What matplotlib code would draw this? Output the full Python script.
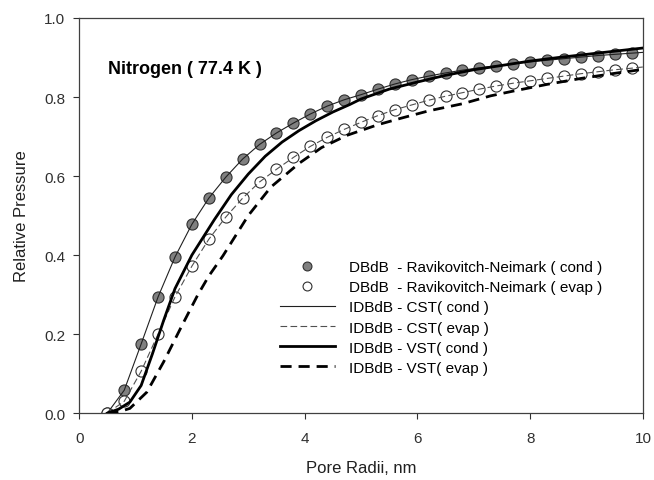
import matplotlib
matplotlib.use("Agg")
import matplotlib.pyplot as plt

plt.rcParams['font.family'] = ['Liberation Sans', 'DejaVu Sans']

# Ravikovitch-Neimark (DBdB) points
rn_x = [0.5, 0.8, 1.1, 1.4, 1.7, 2.0, 2.3, 2.6, 2.9, 3.2, 3.5, 3.8, 4.1, 4.4, 4.7, 5.0,
        5.3, 5.6, 5.9, 6.2, 6.5, 6.8, 7.1, 7.4, 7.7, 8.0, 8.3, 8.6, 8.9, 9.2, 9.5, 9.8]
rn_cond = [0.0, 0.058, 0.175, 0.294, 0.395, 0.478, 0.544, 0.597, 0.643, 0.680, 0.709, 0.734,
           0.757, 0.777, 0.793, 0.806, 0.820, 0.833, 0.844, 0.853, 0.861, 0.868, 0.874, 0.879,
           0.884, 0.889, 0.893, 0.897, 0.901, 0.905, 0.908, 0.911]
rn_evap = [0.0, 0.030, 0.106, 0.200, 0.294, 0.372, 0.440, 0.496, 0.544, 0.585, 0.617, 0.647,
           0.675, 0.698, 0.718, 0.736, 0.753, 0.768, 0.780, 0.792, 0.802, 0.811, 0.820, 0.828,
           0.835, 0.841, 0.847, 0.853, 0.859, 0.864, 0.869, 0.873]

# IDBdB - CST curves
cst_x = rn_x + [10.0]
cst_cond = rn_cond + [0.913]
cst_evap = rn_evap + [0.876]

# IDBdB - VST curves
vst_cond_x = [0.5, 0.7, 0.9, 1.1, 1.3, 1.5, 1.7, 2.0, 2.4, 2.7, 3.0, 3.3, 3.6, 3.9, 4.2,
              4.5, 4.8, 5.0, 5.5, 6.0, 6.5, 7.0, 7.5, 8.0, 8.5, 9.0, 9.5, 10.0]
vst_cond = [0.0, 0.010, 0.028, 0.070, 0.150, 0.235, 0.315, 0.400, 0.490, 0.553, 0.605, 0.650,
            0.686, 0.715, 0.740, 0.762, 0.781, 0.795, 0.820, 0.838, 0.855, 0.869, 0.880, 0.891,
            0.900, 0.908, 0.916, 0.924]
vst_evap_x = [0.5, 0.7, 0.9, 1.2, 1.5, 1.8, 2.1, 2.3, 2.55, 3.0, 3.4, 3.9, 4.3, 4.75, 5.3,
              5.7, 6.2, 6.8, 7.3, 7.7, 8.3, 8.9, 9.5, 10.0]
vst_evap = [0.0, 0.003, 0.012, 0.053, 0.130, 0.215, 0.298, 0.347, 0.398, 0.500, 0.572, 0.632,
            0.672, 0.703, 0.730, 0.746, 0.765, 0.783, 0.803, 0.815, 0.832, 0.847, 0.860, 0.870]

fig = plt.figure(figsize=(6.54, 4.81), dpi=100)
ax = fig.add_axes([0.121, 0.139, 0.862, 0.8215])

ax.plot(rn_x, rn_cond, 'o', ms=8, mfc='#808080', mec='#303030', mew=0.8, zorder=2,
        label='DBdB  - Ravikovitch-Neimark ( cond )')
ax.plot(rn_x, rn_evap, 'o', ms=8, mfc='white', mec='#303030', mew=0.8, zorder=2,
        label='DBdB  - Ravikovitch-Neimark ( evap )')
ax.plot(cst_x, cst_cond, '-', color='#202020', lw=0.8, zorder=3, label='IDBdB - CST( cond )')
ax.plot(cst_x, cst_evap, '--', color='#505050', lw=0.8, dashes=(6, 3), zorder=3,
        label='IDBdB - CST( evap )')
ax.plot(vst_cond_x, vst_cond, '-', color='black', lw=2.0, zorder=3, label='IDBdB - VST( cond )')
ax.plot(vst_evap_x, vst_evap, '--', color='black', lw=2.0, dashes=(4, 2.5), zorder=3,
        label='IDBdB - VST( evap )')

ax.set_xlim(0, 10)
ax.set_ylim(0, 1.0)
ax.set_xticks([0, 2, 4, 6, 8, 10])
ax.set_yticks([0.0, 0.2, 0.4, 0.6, 0.8, 1.0])
ax.set_yticklabels(['0.0', '0.2', '0.4', '0.6', '0.8', '1.0'])
ax.tick_params(direction='out', length=4.3, width=0.8, colors='#303030', labelsize=11,
               top=False, right=False)
ax.tick_params(axis='x', pad=8.5)
ax.tick_params(axis='y', pad=5.8)
for s in ax.spines.values():
    s.set_color('#404040')
    s.set_linewidth(0.9)

ax.set_xlabel('Pore Radii, nm', fontsize=12, color='#202020', labelpad=11)
ax.set_ylabel('Relative Pressure', fontsize=12, color='#202020', labelpad=11)

ax.text(0.051, 0.871, 'Nitrogen ( 77.4 K )', transform=ax.transAxes, fontsize=13,
        fontweight='bold', va='center', ha='left')

ax.legend(loc='upper left', bbox_to_anchor=(0.356, 0.387), frameon=False, fontsize=11,
          handlelength=3.6, handletextpad=0.9, labelspacing=0.4, borderpad=0,
          borderaxespad=0, markerscale=0.8)

fig.savefig('out.png', dpi=100)
